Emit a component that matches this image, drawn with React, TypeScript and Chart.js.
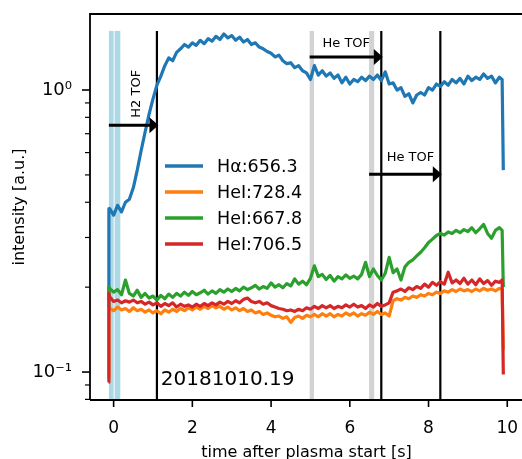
import React, { useEffect, useRef } from 'react';
import { Chart, registerables } from 'chart.js';

Chart.register(...registerables);

const FONT = 'DejaVu Sans';

// time base [s]
const TIME = [
  -0.13, -0.12,
  -0.1, 0.0, 0.1, 0.2, 0.3, 0.4, 0.5, 0.6, 0.7, 0.8,
  0.9, 1.0, 1.1, 1.2, 1.3, 1.4, 1.5, 1.6, 1.7, 1.8,
  1.9, 2.0, 2.1, 2.2, 2.3, 2.4, 2.5, 2.6, 2.7, 2.8,
  2.9, 3.0, 3.1, 3.2, 3.3, 3.4, 3.5, 3.6, 3.7, 3.8,
  3.9, 4.0, 4.1, 4.2, 4.3, 4.4, 4.5, 4.6, 4.7, 4.8,
  4.9, 5.0, 5.1, 5.2, 5.3, 5.4, 5.5, 5.6, 5.7, 5.8,
  5.9, 6.0, 6.1, 6.2, 6.3, 6.4, 6.5, 6.6, 6.7, 6.8,
  6.9, 7.0, 7.1, 7.2, 7.3, 7.4, 7.5, 7.6, 7.7, 7.8,
  7.9, 8.0, 8.1, 8.2, 8.3, 8.4, 8.5, 8.6, 8.7, 8.8,
  8.9, 9.0, 9.1, 9.2, 9.3, 9.4, 9.5, 9.6, 9.7, 9.8,
  9.87, 9.9,
];

const H_ALPHA_656 = [
  0.18, 0.38,
  0.38, 0.36, 0.39, 0.37, 0.40, 0.41, 0.45, 0.52, 0.61, 0.71,
  0.82, 0.93, 1.04, 1.12, 1.22, 1.30, 1.27, 1.36, 1.40, 1.45,
  1.42, 1.47, 1.44, 1.50, 1.46, 1.52, 1.49, 1.55, 1.51, 1.58,
  1.53, 1.56, 1.50, 1.54, 1.48, 1.51, 1.45, 1.47, 1.42, 1.40,
  1.37, 1.35, 1.31, 1.33, 1.27, 1.24, 1.25, 1.20, 1.22, 1.17,
  1.15, 1.09, 1.22, 1.13, 1.17, 1.12, 1.15, 1.10, 1.13, 1.06,
  1.11, 1.05, 1.09, 1.07, 1.11, 1.08, 1.12, 1.09, 1.13, 1.08,
  1.16, 1.05, 1.06, 1.00, 1.02, 0.95, 0.97, 0.90, 0.96, 0.98,
  0.96, 1.02, 1.00, 1.05, 1.03, 1.07, 1.04, 1.09, 1.06, 1.10,
  1.05, 1.12, 1.08, 1.11, 1.09, 1.14, 1.10, 1.12, 1.06, 1.11,
  1.09, 0.52,
];

const HEI_728 = [
  0.095, 0.17,
  0.168, 0.165, 0.170, 0.166, 0.168, 0.164, 0.169, 0.165, 0.167, 0.163,
  0.166, 0.162, 0.165, 0.161, 0.166, 0.163, 0.167, 0.164, 0.168, 0.165,
  0.169, 0.166, 0.170, 0.167, 0.171, 0.168, 0.172, 0.169, 0.171, 0.167,
  0.170, 0.166, 0.169, 0.165, 0.168, 0.164, 0.166, 0.162, 0.164, 0.160,
  0.162, 0.159, 0.157, 0.158, 0.155, 0.157, 0.150, 0.156, 0.158, 0.155,
  0.159, 0.157, 0.160, 0.157, 0.161, 0.158, 0.161, 0.157, 0.160, 0.158,
  0.162, 0.159, 0.162, 0.158, 0.161, 0.159, 0.163, 0.160, 0.164, 0.160,
  0.162, 0.158, 0.179, 0.182, 0.180, 0.184, 0.182, 0.186, 0.184, 0.188,
  0.186, 0.190, 0.188, 0.192, 0.190, 0.194, 0.192, 0.196, 0.193, 0.197,
  0.194, 0.196, 0.193, 0.197, 0.194, 0.198, 0.195, 0.197, 0.194, 0.198,
  0.196, 0.12,
];

const HEI_668 = [
  0.17, 0.20,
  0.198, 0.192, 0.196, 0.188, 0.212, 0.190, 0.186, 0.195, 0.184, 0.190,
  0.183, 0.186, 0.180, 0.187, 0.182, 0.189, 0.184, 0.190, 0.186, 0.192,
  0.187, 0.193, 0.188, 0.191, 0.195, 0.189, 0.194, 0.190, 0.196, 0.192,
  0.197, 0.193, 0.198, 0.194, 0.200, 0.196, 0.199, 0.203, 0.197, 0.201,
  0.198, 0.207, 0.200, 0.204, 0.199, 0.206, 0.202, 0.214, 0.205, 0.210,
  0.204, 0.215, 0.238, 0.218, 0.222, 0.213, 0.220, 0.210, 0.218, 0.214,
  0.221, 0.215, 0.219, 0.214, 0.222, 0.245, 0.218, 0.232, 0.220, 0.212,
  0.224, 0.255, 0.225, 0.232, 0.212, 0.236, 0.245, 0.250, 0.258, 0.266,
  0.276, 0.288, 0.296, 0.305, 0.310, 0.306, 0.314, 0.310, 0.318, 0.312,
  0.320, 0.315, 0.325, 0.312, 0.322, 0.334, 0.310, 0.298, 0.318, 0.325,
  0.318, 0.20,
];

const HEI_706 = [
  0.092, 0.19,
  0.185, 0.178, 0.180, 0.176, 0.179, 0.177, 0.180, 0.176, 0.178, 0.174,
  0.177, 0.173, 0.176, 0.171, 0.175, 0.172, 0.176, 0.170, 0.174, 0.171,
  0.173, 0.170, 0.174, 0.171, 0.175, 0.172, 0.176, 0.173, 0.177, 0.174,
  0.178, 0.175, 0.179, 0.176, 0.181, 0.183, 0.178, 0.176, 0.178, 0.174,
  0.176, 0.172, 0.170, 0.168, 0.167, 0.165, 0.166, 0.164, 0.167, 0.165,
  0.169, 0.167, 0.171, 0.168, 0.172, 0.169, 0.172, 0.168, 0.171, 0.169,
  0.173, 0.170, 0.174, 0.170, 0.172, 0.168, 0.173, 0.170, 0.175, 0.171,
  0.173, 0.176, 0.192, 0.194, 0.197, 0.193, 0.199, 0.196, 0.201, 0.198,
  0.205, 0.200, 0.208, 0.203, 0.209, 0.205, 0.226, 0.207, 0.212, 0.206,
  0.215, 0.205, 0.212, 0.204, 0.214, 0.206, 0.211, 0.203, 0.210, 0.208,
  0.212, 0.098,
];

const SERIES_LABELS = ['Hα:656.3', 'HeI:728.4', 'HeI:667.8', 'HeI:706.5'];
const SERIES_COLORS = ['#1f77b4', '#ff7f0e', '#2ca02c', '#d62728'];
const SERIES_VALUES = [H_ALPHA_656, HEI_728, HEI_668, HEI_706];

const X_RANGE = [-0.6, 10.4];
const Y_RANGE = [0.0796, 1.86];
const X_TICKS = [0, 2, 4, 6, 8, 10];
const Y_MAJOR_TICKS = [0.1, 1];
const Y_MINOR_TICKS = [0.08, 0.09, 0.2, 0.3, 0.4, 0.5, 0.6, 0.7, 0.8, 0.9];

// marker spans and lines
const SPAN_Y = [0.0796, 1.62];
const BLUE_SPANS = [[-0.12, 0.0], [0.025, 0.17]];
const GRAY_SPANS = [[4.98, 5.09], [6.49, 6.62]];
const TOF_LINES = [1.1, 6.8, 8.3];
const TOF_ARROWS = [
  { from: -0.12, to: 1.1, y: 0.75 },
  { from: 4.98, to: 6.8, y: 1.31 },
  { from: 6.49, to: 8.3, y: 0.503 },
];
const TOF_LABELS = [
  { text: 'H2 TOF', x: 0.58, y: 0.97, vertical: true },
  { text: 'He TOF', x: 5.91, y: 1.456, vertical: false },
  { text: 'He TOF', x: 7.54, y: 0.574, vertical: false },
];
const SHOT_LABEL = { text: '20181010.19', x: 1.2, y: 0.09 };

const overlayPlugin = {
  id: 'overlay',
  beforeDatasetsDraw(chart: any) {
    const { ctx, chartArea, scales } = chart;
    const x = scales.x;
    const y = scales.y;
    ctx.save();
    ctx.beginPath();
    ctx.rect(chartArea.left, chartArea.top, chartArea.right - chartArea.left, chartArea.bottom - chartArea.top);
    ctx.clip();
    const yTop = y.getPixelForValue(SPAN_Y[1]);
    const yBot = y.getPixelForValue(SPAN_Y[0]);
    ctx.fillStyle = '#add8e6';
    BLUE_SPANS.forEach(([a, b]) => {
      const xa = x.getPixelForValue(a);
      const xb = x.getPixelForValue(b);
      ctx.fillRect(xa, yTop, xb - xa, yBot - yTop);
    });
    ctx.fillStyle = '#d3d3d3';
    GRAY_SPANS.forEach(([a, b]) => {
      const xa = x.getPixelForValue(a);
      const xb = x.getPixelForValue(b);
      ctx.fillRect(xa, yTop, xb - xa, yBot - yTop);
    });
    ctx.strokeStyle = '#000';
    ctx.lineWidth = 2.2;
    TOF_LINES.forEach((v) => {
      const px = x.getPixelForValue(v);
      ctx.beginPath();
      ctx.moveTo(px, yTop);
      ctx.lineTo(px, yBot);
      ctx.stroke();
    });
    ctx.restore();
  },
  afterDatasetsDraw(chart: any) {
    const { ctx, chartArea, scales } = chart;
    const x = scales.x;
    const y = scales.y;
    ctx.save();
    // arrows
    ctx.fillStyle = '#000';
    ctx.strokeStyle = '#000';
    TOF_ARROWS.forEach((a) => {
      const x0 = x.getPixelForValue(a.from);
      const x1 = x.getPixelForValue(a.to) + 1.5;
      const py = y.getPixelForValue(a.y);
      const headLen = 9;
      const headHalf = 8;
      ctx.lineWidth = 3;
      ctx.beginPath();
      ctx.moveTo(x0, py);
      ctx.lineTo(x1 - headLen + 1, py);
      ctx.stroke();
      ctx.beginPath();
      ctx.moveTo(x1, py);
      ctx.lineTo(x1 - headLen, py - headHalf);
      ctx.lineTo(x1 - headLen, py + headHalf);
      ctx.closePath();
      ctx.fill();
    });
    // TOF labels
    ctx.font = `13px "${FONT}"`;
    ctx.textAlign = 'center';
    ctx.textBaseline = 'middle';
    TOF_LABELS.forEach((l) => {
      const px = x.getPixelForValue(l.x);
      const py = y.getPixelForValue(l.y);
      ctx.save();
      ctx.translate(px, py);
      if (l.vertical) ctx.rotate(-Math.PI / 2);
      ctx.fillText(l.text, 0, 0);
      ctx.restore();
    });
    // shot number
    ctx.font = `20px "${FONT}"`;
    ctx.textAlign = 'left';
    ctx.textBaseline = 'alphabetic';
    ctx.fillText(SHOT_LABEL.text, x.getPixelForValue(SHOT_LABEL.x), y.getPixelForValue(SHOT_LABEL.y));
    // legend
    const lx0 = chartArea.left + 75;
    const lx1 = chartArea.left + 113;
    const tx = chartArea.left + 127;
    ctx.font = `17.5px "${FONT}"`;
    ctx.textBaseline = 'middle';
    SERIES_LABELS.forEach((label, i) => {
      const ry = chartArea.top + 152 + i * 26;
      ctx.strokeStyle = SERIES_COLORS[i];
      ctx.lineWidth = 3.5;
      ctx.beginPath();
      ctx.moveTo(lx0, ry);
      ctx.lineTo(lx1, ry);
      ctx.stroke();
      ctx.fillStyle = '#000';
      ctx.fillText(label, tx, ry + 1);
    });
    ctx.restore();
  },
  afterDraw(chart: any) {
    const { ctx, chartArea, scales } = chart;
    const x = scales.x;
    const y = scales.y;
    ctx.save();
    ctx.strokeStyle = '#000';
    ctx.lineWidth = 1.8;
    ctx.beginPath();
    ctx.moveTo(chartArea.left, chartArea.bottom);
    ctx.lineTo(chartArea.left, chartArea.top);
    ctx.lineTo(chartArea.right + 5, chartArea.top);
    ctx.moveTo(chartArea.left, chartArea.bottom);
    ctx.lineTo(chartArea.right + 5, chartArea.bottom);
    ctx.stroke();
    ctx.lineWidth = 1.6;
    X_TICKS.forEach((v) => {
      const px = x.getPixelForValue(v);
      ctx.beginPath();
      ctx.moveTo(px, chartArea.bottom);
      ctx.lineTo(px, chartArea.bottom + 7);
      ctx.stroke();
    });
    Y_MAJOR_TICKS.forEach((v) => {
      const py = y.getPixelForValue(v);
      ctx.beginPath();
      ctx.moveTo(chartArea.left, py);
      ctx.lineTo(chartArea.left - 8, py);
      ctx.stroke();
    });
    ctx.lineWidth = 1.2;
    Y_MINOR_TICKS.forEach((v) => {
      const py = y.getPixelForValue(v);
      ctx.beginPath();
      ctx.moveTo(chartArea.left, py);
      ctx.lineTo(chartArea.left - 5, py);
      ctx.stroke();
    });
    ctx.restore();
  },
};

export default function App() {
  const canvasRef = useRef<HTMLCanvasElement | null>(null);

  useEffect(() => {
    if (!canvasRef.current) return;
    const datasets = SERIES_VALUES.map((vals, i) => ({
      label: SERIES_LABELS[i],
      data: TIME.map((t, k) => ({ x: t, y: vals[k] })),
      borderColor: SERIES_COLORS[i],
      backgroundColor: SERIES_COLORS[i],
      borderWidth: 3.2,
      pointRadius: 0,
      tension: 0,
      borderJoinStyle: 'round' as const,
      fill: false,
      order: 3 - i,
    }));
    const chart = new Chart(canvasRef.current, {
      type: 'line',
      data: { datasets },
      options: {
        animation: false,
        responsive: false,
        devicePixelRatio: 1,
        parsing: false,
        layout: { padding: { top: 14, right: 17, left: 0, bottom: 0 } },
        plugins: { legend: { display: false }, tooltip: { enabled: false } },
        scales: {
          x: {
            type: 'linear',
            min: X_RANGE[0],
            max: X_RANGE[1],
            afterBuildTicks: (s: any) => {
              s.ticks = X_TICKS.map((v) => ({ value: v }));
            },
            afterFit: (s: any) => {
              s.height = 59;
              s.paddingLeft = 0;
              s.paddingRight = 0;
              s.paddingTop = 0;
              s.paddingBottom = 0;
            },
            grid: { display: false, drawTicks: false },
            border: { display: false },
            ticks: {
              color: '#000',
              font: { family: FONT, size: 17 },
              padding: 18,
              maxRotation: 0,
              autoSkip: false,
              callback: (v: any) => String(v),
            },
            title: {
              display: true,
              text: 'time after plasma start [s]',
              color: '#000',
              font: { family: FONT, size: 16 },
              padding: { top: 0, bottom: -3 },
            },
          },
          y: {
            type: 'logarithmic',
            min: Y_RANGE[0],
            max: Y_RANGE[1],
            afterBuildTicks: (s: any) => {
              s.ticks = [...Y_MINOR_TICKS, ...Y_MAJOR_TICKS].sort((a, b) => a - b).map((v) => ({ value: v }));
            },
            afterFit: (s: any) => {
              s.width = 90;
              s.paddingLeft = 0;
              s.paddingRight = 0;
              s.paddingTop = 0;
              s.paddingBottom = 0;
            },
            grid: { display: false, drawTicks: false },
            border: { display: false },
            ticks: {
              color: '#000',
              font: { family: FONT, size: 18 },
              padding: 18,
              autoSkip: false,
              callback: (v: any) => (Math.abs(v - 1) < 1e-9 ? '10⁰' : Math.abs(v - 0.1) < 1e-9 ? '10⁻¹' : ''),
            },
            title: {
              display: true,
              text: 'intensity [a.u.]',
              color: '#000',
              font: { family: FONT, size: 16 },
              padding: { top: 10, bottom: 0 },
            },
          },
        },
      },
      plugins: [overlayPlugin],
    });
    return () => chart.destroy();
  }, []);

  return (
    <div
      style={{
        position: 'fixed',
        left: 0,
        top: 0,
        width: 522,
        height: 459,
        overflow: 'hidden',
        background: '#fff',
      }}
    >
      <canvas ref={canvasRef} width={540} height={459} style={{ display: 'block' }} />
    </div>
  );
}
